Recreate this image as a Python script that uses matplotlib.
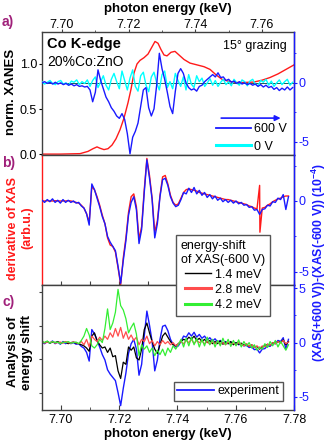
import numpy as np
import matplotlib
matplotlib.use('Agg')
import matplotlib.pyplot as plt
from matplotlib.lines import Line2D
from matplotlib.ticker import MultipleLocator

plt.rcParams['font.family'] = ['Liberation Sans', 'DejaVu Sans']
plt.rcParams['axes.unicode_minus'] = False
plt.rcParams['mathtext.fontset'] = 'custom'
plt.rcParams['mathtext.rm'] = 'Liberation Sans'
plt.rcParams['mathtext.bf'] = 'Liberation Sans:bold'

# ─── DATA ──────────────────────────────────────────────────────────────────────
# panel a: normalised XANES (left axis), read as key points
xanes_energy = [7.6940, 7.6994, 7.7054, 7.7078, 7.7093, 7.7105, 7.7114, 7.7126,
                7.7138, 7.7150, 7.7162, 7.7174, 7.7186, 7.7198, 7.7207, 7.7216,
                7.7225, 7.7234, 7.7246, 7.7258, 7.7270, 7.7279, 7.7288, 7.7297,
                7.7306, 7.7315, 7.7327, 7.7339, 7.7351, 7.7366, 7.7384, 7.7405,
                7.7426, 7.7444, 7.7462, 7.7480, 7.7498, 7.7522, 7.7549, 7.7576,
                7.7600, 7.7624, 7.7648, 7.7672, 7.7696]
xanes_norm = [0.0, 0.0, 0.005, 0.03, 0.06, 0.08, 0.065, 0.05,
              0.06, 0.10, 0.17, 0.27, 0.40, 0.57, 0.72, 0.90,
              1.00, 1.04, 1.07, 1.11, 1.19, 1.25, 1.23, 1.16,
              1.10, 1.09, 1.13, 1.14, 1.10, 1.05, 1.01, 0.99,
              0.97, 0.94, 0.88, 0.83, 0.81, 0.795, 0.795, 0.80,
              0.82, 0.85, 0.89, 0.94, 0.99]

# panel a: difference signals (right axis, 1e-4), scan start 7.6940 keV, step 0.8 eV
SCAN_A_START = 7.6940
SCAN_A_STEP = 0.0008
diff_600v = [0.0, 0.1, -0.05, 0.05, -0.1, 0.05, -0.1, 0.0, -0.15, -0.05,
             -0.2, -0.1, -0.25, -0.15, -0.3, -0.25, -0.35, -0.3, -0.6, -1.6,
             -0.8, 1.1, 0.2, -0.5, -1.2, -1.6, -2.1, -2.4, -2.8, -3.0,
             -2.6, -3.1, -4.3, -6.0, -4.6, -4.1, -3.4, -2.0, -0.6, -0.4,
             -2.1, -2.8, -2.2, -0.2, 2.5, 1.2, 0.3, -0.8, -2.0, -2.6,
             -0.7, 0.8, 1.2, 0.8, 0.0, -0.4, -0.6, -0.5, -0.7, -0.3,
             -0.2, 0.1, 0.3, 0.5, 0.7, 0.5, 0.85, 0.45, 0.5, 0.2,
             0.3, 0.05, 0.15, -0.05, 0.1, -0.1, 0.0, -0.15, -0.05, -0.2,
             -0.1, -0.3, -0.15, -0.35, -0.2, -0.4, -0.3, -0.55, -0.4, -0.65,
             -0.45, -0.6, -0.35, -0.6, -0.4]
diff_0v = [0.1, -0.1, 0.05, 0.2, -0.05, -0.15, 0.1, 0.2, -0.1, 0.0,
           -0.2, 0.15, 0.05, 0.25, -0.15, 0.1, -0.05, 0.25, -0.3, 0.2,
           0.5, -0.4, 0.1, 0.6, -0.2, -0.6, 0.3, 0.8, 0.1, -0.5,
           1.0, 0.2, -0.6, 0.4, 1.1, -0.3, -0.7, 0.6, 0.9, -0.2,
           -0.75, 0.5, 0.9, 0.0, -0.6, 0.7, 1.0, -0.4, 0.1, -0.5,
           0.8, 0.2, -0.3, 0.5, -0.6, 0.7, -0.1, -0.4, 0.6, 0.1,
           0.4, -0.3, 0.0, 0.35, -0.2, 0.2, -0.3, 0.05, 0.3, -0.15,
           0.1, -0.25, 0.3, 0.0, -0.2, 0.25, 0.1, -0.25, 0.15, 0.3,
           -0.1, -0.25, 0.2, 0.05, 0.3, -0.2, 0.15, -0.3, 0.0, 0.25,
           -0.15, 0.1, 0.3, -0.2, 0.05]

# panels b, c: scan start 7.6935 keV, step 0.9 eV
SCAN_BC_START = 7.6935
SCAN_BC_STEP = 0.0009
experiment = [0.05, -0.1, 0.1, -0.05, 0.15, -0.1, 0.05, -0.15, 0.1, -0.1,
              0.05, -0.1, 0.0, -0.15, -0.1, -0.35, -0.5, -0.9, -1.7, 1.2,
              0.8, 0.2, -0.4, -1.1, -1.6, -2.5, -2.9, -3.2, -3.5, -4.6,
              -5.8, -4.2, -2.8, -1.0, -0.1, 0.3, -0.6, -3.0, -2.0, 0.6,
              2.9, 1.6, 0.1, -2.6, -1.6, 0.3, 1.5, 1.6, 1.1, 0.3,
              -0.15, -0.4, -0.3, 0.1, 0.6, 0.5, 0.9, 0.6, 0.95, 0.5,
              0.75, 0.4, 0.6, 0.25, 0.45, 0.15, 0.35, 0.05, 0.2, -0.05,
              0.1, -0.1, 0.05, -0.15, 0.0, -0.2, -0.1, -0.3, -0.25, -0.45,
              -0.4, -0.65, -0.6, -0.95, -0.6, -0.55, -0.3, -0.35, -0.05, -0.1,
              0.2, 0.1, 0.45, -0.6, 0.3]
# derivative of XAS (arb. u.), with one glitch point at 7.7683 keV
deriv_energy_glitch = 7.7683
deriv_value_glitch = -2.2
derivative = [0.0, 0.0, 0.02, 0.0, 0.0, 0.02, 0.0, 0.0, 0.0, 0.0,
              0.02, 0.0, -0.05, -0.1, -0.15, -0.3, -0.5, -0.9, -1.5, 1.0,
              0.8, 0.3, -0.3, -1.0, -1.6, -2.6, -3.1, -3.2, -3.6, -4.7,
              -5.9, -4.0, -2.6, -0.8, 0.3, 0.5, -0.4, -2.7, -1.8, 0.8,
              3.0, 1.8, 0.2, -2.2, -1.4, 0.4, 1.7, 1.8, 1.2, 0.4,
              -0.1, -0.3, -0.2, 0.2, 0.6, 0.8, 0.85, 0.8, 0.75, 0.7,
              0.6, 0.55, 0.5, 0.45, 0.4, 0.35, 0.3, 0.25, 0.2, 0.15,
              0.1, 0.1, 0.05, 0.0, -0.05, -0.1, -0.15, -0.2, -0.25, -0.35,
              -0.4, -0.5, -0.55, 1.1, -0.5, -0.45, -0.3, -0.2, -0.05, 0.05,
              0.15, 0.2, 0.3, 0.35, 0.35]
shift_14 = [0.05, 0.0, 0.1, -0.05, 0.05, 0.0, 0.1, -0.05, 0.0, 0.05,
            -0.1, 0.0, 0.05, -0.05, -0.1, -0.2, -0.3, -0.5, -0.8, 0.6,
            0.9, 0.2, -0.2, -0.5, -0.4, -0.9, -0.5, -1.3, -1.2, -2.6,
            -3.3, -1.8, -2.0, -0.4, -0.7, -0.4, -1.4, -1.6, -0.6, 1.2,
            1.8, 0.9, 0.1, -0.6, -1.0, -0.2, 0.6, 0.9, 0.5, 0.1,
            -0.2, -0.3, -0.1, 0.1, 0.3, 0.2, 0.5, 0.3, 0.6, 0.2,
            0.4, 0.1, 0.3, 0.0, 0.2, -0.1, 0.1, -0.1, 0.15, -0.15,
            0.05, -0.1, 0.1, -0.2, 0.0, -0.15, -0.05, -0.25, -0.15, -0.35,
            -0.2, -0.45, -0.35, -0.6, -0.4, -0.3, -0.15, -0.25, 0.0, -0.1,
            0.1, 0.0, 0.25, -0.2, 0.1]
shift_28 = [0.1, -0.05, 0.05, 0.0, 0.1, -0.05, 0.0, 0.05, -0.05, 0.1,
            0.0, -0.05, 0.05, 0.0, -0.1, 0.1, -0.2, 0.3, -0.4, 0.6,
            0.3, 0.1, 0.5, 0.2, 0.6, 0.3, 0.9, 0.5, 1.3, 0.6,
            1.4, 0.4, 1.0, 0.3, 0.7, 0.2, 0.5, -0.2, 0.3, 0.1,
            0.6, -0.1, 0.2, -0.3, 0.1, -0.2, 0.2, -0.1, 0.1, -0.2,
            0.0, -0.3, -0.1, 0.1, -0.1, 0.2, 0.0, 0.3, -0.1, 0.2,
            0.0, 0.15, -0.1, 0.1, -0.15, 0.05, -0.1, 0.1, -0.15, 0.0,
            -0.2, 0.05, -0.15, -0.05, -0.2, 0.0, -0.15, -0.3, -0.1, -0.35,
            -0.2, -0.45, -0.3, -0.55, -0.3, -0.4, -0.15, -0.25, 0.0, -0.1,
            0.1, -0.05, 0.2, -0.1, 0.05]
shift_42 = [0.1, 0.0, 0.15, -0.05, 0.1, 0.0, 0.05, -0.1, 0.05, 0.0,
            0.1, -0.05, 0.0, 0.05, -0.1, 0.2, 0.6, 1.3, 0.7, -0.3,
            -0.5, -0.2, 0.3, 0.0, 1.3, 3.1, 1.2, 1.8, 2.8, 4.9,
            3.4, 3.0, 2.2, 0.9, 1.4, 1.8, 0.8, -1.2, -0.2, -0.6,
            -0.3, -0.9, -0.5, -1.2, -0.7, -1.1, -0.6, -1.2, -0.5, -0.9,
            -0.3, -0.6, -0.2, 0.3, -0.4, 0.4, -0.3, 0.5, -0.2, 0.4,
            -0.4, 0.3, -0.3, 0.5, -0.2, 0.3, -0.4, 0.2, -0.3, 0.4,
            -0.2, 0.3, -0.35, 0.2, -0.3, 0.25, -0.4, 0.1, -0.3, 0.0,
            -0.5, -0.2, -0.7, -0.4, -0.6, -0.1, -0.45, 0.1, -0.3, 0.2,
            -0.4, 0.1, -0.3, -0.7, -0.2]
shift_labels = ['1.4 meV', '2.8 meV', '4.2 meV']

# ─── STYLE ─────────────────────────────────────────────────────────────────────
BLUE = '#1a1aff'
RED = '#ff1a1a'
CYAN = '#00ffff'
PURPLE = '#a0207a'
SPINE = '#404040'
SIM_COLOURS = ['#000000', '#ff4d4d', '#33ee33']

energy_a = SCAN_A_START + SCAN_A_STEP * np.arange(len(diff_600v))
energy_bc = SCAN_BC_START + SCAN_BC_STEP * np.arange(len(experiment))
glitch_pos = int(np.searchsorted(energy_bc, deriv_energy_glitch))
deriv_energy = np.insert(energy_bc, glitch_pos, deriv_energy_glitch)
deriv_values = np.insert(np.array(derivative), glitch_pos, deriv_value_glitch)

W_PX, H_PX = 330, 446
fig = plt.figure(figsize=(W_PX / 100, H_PX / 100), dpi=100)


def box(top, bottom, left=42, right=294):
    return [left / W_PX, 1 - bottom / H_PX, (right - left) / W_PX, (bottom - top) / H_PX]


ax_a = fig.add_axes(box(32, 155))
ax_b = fig.add_axes(box(155, 285))
ax_c = fig.add_axes(box(285, 410))


def style_twin(ax2, ticks, ylim):
    for side in ['left', 'top', 'bottom']:
        ax2.spines[side].set_visible(False)
    ax2.spines['right'].set_color(BLUE)
    ax2.spines['right'].set_linewidth(1.0)
    ax2.set_ylim(*ylim)
    ax2.set_yticks(ticks)
    ax2.yaxis.set_minor_locator(MultipleLocator(2.5))
    ax2.tick_params(axis='y', which='both', colors=BLUE, direction='out',
                    labelsize=9, pad=1)
    ax2.tick_params(axis='y', which='major', length=2.5)
    ax2.tick_params(axis='y', which='minor', length=1.5)


for ax in (ax_a, ax_b, ax_c):
    for s in ax.spines.values():
        s.set_color(SPINE)
        s.set_linewidth(1.0)

# ── panel a ──
ax_a.plot(xanes_energy, xanes_norm, color=RED, lw=1.0)
ax_a.set_xlim(7.694, 7.7696)
ax_a.set_ylim(-0.01, 1.355)
ax_a.xaxis.tick_top()
ax_a.set_xticks([7.70, 7.72, 7.74, 7.76])
ax_a.xaxis.set_minor_locator(MultipleLocator(0.01))
ax_a.set_xticklabels(['7.70', '7.72', '7.74', '7.76'])
ax_a.tick_params(axis='x', which='both', direction='out', labelsize=9, pad=-2,
                 colors=SPINE, labelcolor='black')
ax_a.tick_params(axis='x', which='major', length=2.5)
ax_a.tick_params(axis='x', which='minor', length=1.5)
ax_a.set_yticks([0.0, 0.5, 1.0])
ax_a.set_yticklabels(['0.0', '0.5', '1.0'])
ax_a.tick_params(axis='y', direction='out', length=2.5, labelsize=9, pad=1)

ax_a2 = ax_a.twinx()
ax_a2.axhline(0, color='#1f5a5a', lw=0.7, zorder=1)
ax_a2.plot(energy_a, diff_0v, color=CYAN, lw=1.0, zorder=2)
ax_a2.plot(energy_a, diff_600v, color=BLUE, lw=1.0, zorder=3)
style_twin(ax_a2, [-5, 0], (-6.1, 4.3))

ax_a.text(0.02, 0.90, 'Co K-edge', transform=ax_a.transAxes, fontsize=10.5,
          fontweight='bold', va='center')
ax_a.text(0.02, 0.755, '20%Co:ZnO', transform=ax_a.transAxes, fontsize=10,
          va='center')
ax_a.text(0.97, 0.885, '15° grazing', transform=ax_a.transAxes, fontsize=9,
          va='center', ha='right')
ax_a.annotate('', xy=(0.958, 0.30), xytext=(0.70, 0.30), xycoords='axes fraction',
              arrowprops=dict(arrowstyle='-|>', color=BLUE, lw=1.2, mutation_scale=8))

fig.legend(handles=[Line2D([], [], color=BLUE, lw=1.3), Line2D([], [], color=CYAN, lw=2.2)],
           labels=['600 V', '0 V'], loc='upper left',
           bbox_to_anchor=(216 / W_PX, 1 - 123 / H_PX), frameon=False,
           borderpad=0, borderaxespad=0, handlelength=2.8, handletextpad=0.25,
           labelspacing=0.45, fontsize=9)

# ── panel b ──
ax_b.plot(deriv_energy, deriv_values, color=RED, lw=1.0)
ax_b.set_xlim(7.6935, 7.78)
ax_b.set_ylim(-5.92, 3.24)
ax_b.set_yticks([])
ax_b.spines['left'].set_color(RED)
ax_b.xaxis.set_major_locator(MultipleLocator(0.01))
ax_b.tick_params(axis='x', which='both', direction='in', length=3, labelbottom=False,
                 top=False, colors=SPINE)

ax_b2 = ax_b.twinx()
ax_b2.plot(energy_bc, experiment, color=BLUE, lw=1.0)
style_twin(ax_b2, [-5, 0], (-5.92, 3.24))

# ── panel c ──
ax_c.plot(energy_bc, experiment, color=BLUE, lw=1.0)
for vals, col in zip([shift_14, shift_28, shift_42], SIM_COLOURS):
    ax_c.plot(energy_bc, vals, color=col, lw=0.9)
ax_c.set_xlim(7.6935, 7.78)
ax_c.set_ylim(-6.2, 5.3)
ax_c.set_xticks([7.70, 7.72, 7.74, 7.76, 7.78])
ax_c.set_xticklabels(['7.70', '7.72', '7.74', '7.76', '7.78'])
ax_c.xaxis.set_minor_locator(MultipleLocator(0.01))
ax_c.set_yticks([-4.65, -1.55, 1.55, 4.65])
ax_c.set_yticklabels([])
ax_c.tick_params(axis='y', direction='out', length=2.5, colors=SPINE)
ax_c.tick_params(axis='x', which='both', direction='in', labelsize=9, pad=3,
                 colors=SPINE, labelcolor='black')
ax_c.tick_params(axis='x', which='major', length=3.5)
ax_c.tick_params(axis='x', which='minor', length=2.5)
ax_c.set_xlabel('photon energy (keV)', fontsize=9.5, fontweight='bold', labelpad=1)

ax_c2 = ax_c.twinx()
style_twin(ax_c2, [-5, 0, 5], (-6.2, 5.3))

fig.legend(handles=[Line2D([], [], color=c, lw=w) for c, w in zip(SIM_COLOURS, [1.0, 2.2, 2.2])],
           labels=shift_labels, title='energy-shift\nof XAS(-600 V)',
           loc='upper left', bbox_to_anchor=(176 / W_PX, 1 - 235 / H_PX),
           fontsize=9, title_fontsize=9, fancybox=False, framealpha=1,
           edgecolor='#555555', handlelength=2.1, handletextpad=0.3,
           labelspacing=0.25, borderpad=0.38, borderaxespad=0)

fig.legend(handles=[Line2D([], [], color=BLUE, lw=1.3)], labels=['experiment'],
           loc='lower right', bbox_to_anchor=(283 / W_PX, 1 - 401 / H_PX),
           fontsize=9, fancybox=False, framealpha=1, edgecolor='#555555',
           handlelength=2.9, handletextpad=0.3, borderpad=0.3, borderaxespad=0)

# ── labels ──
fig.text(168 / W_PX, 1 - 9 / H_PX, 'photon energy (keV)', fontsize=9.5,
         fontweight='bold', ha='center', va='center')
fig.text(8 / W_PX, 1 - 22 / H_PX, 'a)', color=PURPLE, fontsize=10, fontweight='bold',
         ha='center', va='center')
fig.text(9 / W_PX, 1 - 163 / H_PX, 'b)', color=PURPLE, fontsize=10, fontweight='bold',
         ha='center', va='center')
fig.text(9 / W_PX, 1 - 302 / H_PX, 'c)', color=PURPLE, fontsize=10, fontweight='bold',
         ha='center', va='center')
fig.text(11 / W_PX, 1 - 92 / H_PX, 'norm. XANES', rotation=90, fontsize=9.5,
         fontweight='bold', ha='center', va='center')
fig.text(20 / W_PX, 1 - 228 / H_PX, 'derivative of XAS\n(arb.u.)', rotation=90,
         fontsize=9, fontweight='bold', color=RED, ha='center', va='center',
         multialignment='center', linespacing=1.25)
fig.text(20 / W_PX, 1 - 352 / H_PX, 'Analysis of\nenergy shift', rotation=90,
         fontsize=9.5, fontweight='bold', ha='center', va='center',
         multialignment='center', linespacing=1.15)
fig.text(319 / W_PX, 1 - 262 / H_PX, r'(XAS(+600 V))-(XAS(-600 V)) (10$\mathbf{^{-4}}$)',
         rotation=90, fontsize=8.8, fontweight='bold', color=BLUE,
         ha='center', va='center')

fig.savefig('out.png', dpi=100)
